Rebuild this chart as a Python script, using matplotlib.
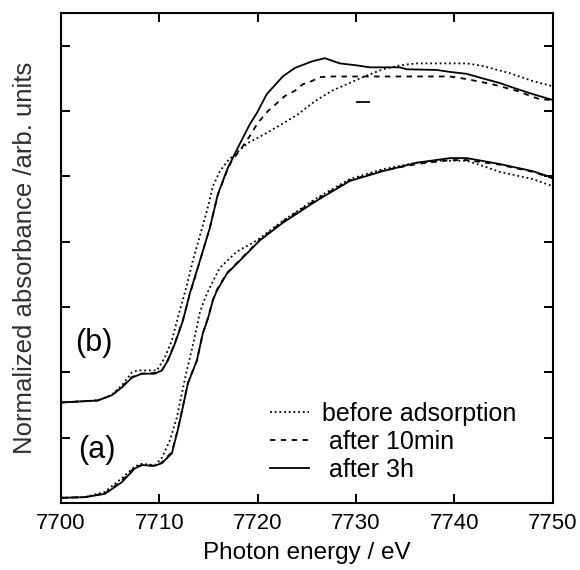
import matplotlib
matplotlib.use("Agg")
import matplotlib.pyplot as plt

plt.rcParams['font.family'] = ['Liberation Sans', 'DejaVu Sans']

# (a) spectra
a_3h_x = [7700.10, 7702.44, 7704.47, 7706.20, 7707.52, 7708.23, 7709.55, 7710.26, 7711.28, 7711.89,
          7712.40, 7712.91, 7713.82, 7714.43, 7714.94, 7715.45, 7715.85, 7716.87, 7717.99, 7720.22,
          7722.56, 7726.02, 7729.37, 7732.72, 7736.18, 7739.53, 7741.26, 7744.61, 7747.97, 7750.0]
a_3h_y = [0.08, 0.09, 0.14, 0.32, 0.53, 0.58, 0.57, 0.61, 0.76, 1.12,
          1.47, 1.83, 2.18, 2.60, 2.82, 3.10, 3.25, 3.51, 3.68, 4.02,
          4.29, 4.63, 4.93, 5.08, 5.21, 5.28, 5.28, 5.19, 5.08, 4.98]
a_10min_y = [0.08, 0.09, 0.15, 0.34, 0.55, 0.58, 0.57, 0.62, 0.78, 1.13,
             1.48, 1.84, 2.18, 2.60, 2.83, 3.11, 3.26, 3.52, 3.69, 4.03,
             4.31, 4.65, 4.94, 5.09, 5.19, 5.25, 5.25, 5.18, 5.07, 4.97]
a_before_x = [7700.10, 7702.44, 7704.47, 7706.20, 7707.52, 7708.23, 7709.55, 7710.26, 7711.08, 7711.79,
              7712.30, 7712.80, 7713.41, 7714.13, 7714.63, 7715.14, 7716.16, 7717.89, 7719.92, 7722.56,
              7726.02, 7729.37, 7732.72, 7736.18, 7738.52, 7741.26, 7742.89, 7744.61, 7747.97, 7750.0]
a_before_y = [0.08, 0.09, 0.17, 0.38, 0.56, 0.60, 0.58, 0.69, 0.96, 1.31,
              1.68, 2.03, 2.41, 2.92, 3.13, 3.30, 3.60, 3.85, 4.02, 4.32,
              4.67, 4.96, 5.11, 5.21, 5.24, 5.24, 5.16, 5.07, 4.96, 4.85]

# (b) spectra
b_3h_x = [7700.10, 7703.76, 7705.18, 7706.20, 7707.22, 7708.23, 7709.55, 7710.26, 7710.87, 7711.59,
          7712.40, 7713.11, 7714.13, 7715.14, 7715.96, 7716.97, 7717.99, 7719.21, 7719.92, 7720.93,
          7721.95, 7722.56, 7723.78, 7725.51, 7726.83, 7728.35, 7730.08, 7731.40, 7734.45, 7735.16,
          7738.21, 7739.53, 7741.26, 7742.89, 7744.61, 7746.34, 7747.97, 7750.0]
b_3h_y = [1.54, 1.57, 1.65, 1.77, 1.92, 1.98, 1.98, 2.03, 2.18, 2.44,
          2.79, 3.21, 3.71, 4.21, 4.73, 5.13, 5.44, 5.80, 5.97, 6.26,
          6.43, 6.53, 6.66, 6.76, 6.81, 6.73, 6.70, 6.67, 6.67, 6.64,
          6.63, 6.60, 6.57, 6.50, 6.43, 6.34, 6.26, 6.17]
b_10min_x = [7700.10, 7703.76, 7705.18, 7706.20, 7707.22, 7708.23, 7709.55, 7710.26, 7710.87, 7711.59,
             7712.40, 7713.11, 7714.13, 7715.14, 7715.96, 7716.97, 7717.38, 7718.39, 7719.21, 7720.02,
             7721.04, 7721.95, 7722.76, 7723.78, 7724.59, 7725.51, 7726.32, 7727.34, 7739.53, 7741.26,
             7743.90, 7746.34, 7748.68, 7750.0]
b_10min_y = [1.54, 1.57, 1.65, 1.78, 1.93, 1.98, 1.99, 2.03, 2.19, 2.45,
             2.80, 3.20, 3.70, 4.22, 4.72, 5.12, 5.24, 5.44, 5.62, 5.82,
             6.00, 6.12, 6.23, 6.31, 6.41, 6.46, 6.52, 6.53, 6.53, 6.49,
             6.41, 6.31, 6.18, 6.17]
b_before_x = [7700.10, 7703.76, 7705.18, 7706.20, 7706.81, 7707.22, 7707.83, 7709.76, 7710.57, 7711.28,
              7712.09, 7712.80, 7713.41, 7714.13, 7714.84, 7715.45, 7716.16, 7716.97, 7717.68, 7719.00,
              7720.73, 7722.46, 7724.09, 7725.81, 7727.54, 7730.39, 7732.72, 7734.45, 7736.18, 7741.26,
              7742.89, 7745.63, 7747.97, 7750.0]
b_before_y = [1.54, 1.57, 1.66, 1.80, 1.92, 2.00, 2.03, 2.03, 2.23, 2.49,
              2.95, 3.33, 3.71, 4.09, 4.47, 4.85, 5.08, 5.24, 5.34, 5.51,
              5.65, 5.80, 5.95, 6.15, 6.31, 6.50, 6.64, 6.70, 6.73, 6.73,
              6.69, 6.58, 6.46, 6.38]

# stray mark in the original figure
mark_x = [7730.1, 7731.3]
mark_y = [6.14, 6.14]

labels = ["before adsorption", " after 10min", " after 3h"]
x_ticks = [7700, 7710, 7720, 7730, 7740, 7750]
y_ticks = [1, 2, 3, 4, 5, 6, 7]

dotted = (0, (1, 1.6))
dashed = (0, (3, 3))
lw = 1.3

fig = plt.figure(figsize=(5.8, 5.7), dpi=100)
ax = fig.add_axes([0.105, 0.1175, 0.848, 0.8595])

ax.plot(a_before_x, a_before_y, color='black', lw=lw, ls=dotted, label=labels[0])
ax.plot(a_3h_x, a_10min_y, color='black', lw=lw, ls=dashed, label=labels[1])
ax.plot(a_3h_x, a_3h_y, color='black', lw=lw, ls='-', label=labels[2])
ax.plot(b_before_x, b_before_y, color='black', lw=lw, ls=dotted)
ax.plot(b_10min_x, b_10min_y, color='black', lw=lw, ls=dashed)
ax.plot(b_3h_x, b_3h_y, color='black', lw=lw, ls='-')
ax.plot(mark_x, mark_y, color='black', lw=1.3)

ax.set_xlim(7700, 7750)
ax.set_ylim(0, 7.5)
ax.set_xticks(x_ticks)
ax.set_yticks(y_ticks)
ax.set_yticklabels([])
ax.tick_params(direction='in', length=6.5, width=1.4, top=True, right=True,
               labelsize=16, pad=7)
for sp in ax.spines.values():
    sp.set_linewidth(1.5)

ax.set_xlabel("Photon energy / eV", fontsize=17.5, labelpad=6)
ax.set_ylabel("Normalized absorbance /arb. units", fontsize=18.5, color='#303030', labelpad=10)

ax.text(7701.4, 2.45, "(b)", fontsize=22, va='center', ha='left')
ax.text(7701.8, 0.81, "(a)", fontsize=22, va='center', ha='left')

leg = ax.legend(loc='upper left', bbox_to_anchor=(0.425, 0.207), frameon=False,
                fontsize=18, handlelength=1.55, handletextpad=0.55,
                labelspacing=0.17, borderpad=0, borderaxespad=0)

fig.savefig("out.png", dpi=100)
